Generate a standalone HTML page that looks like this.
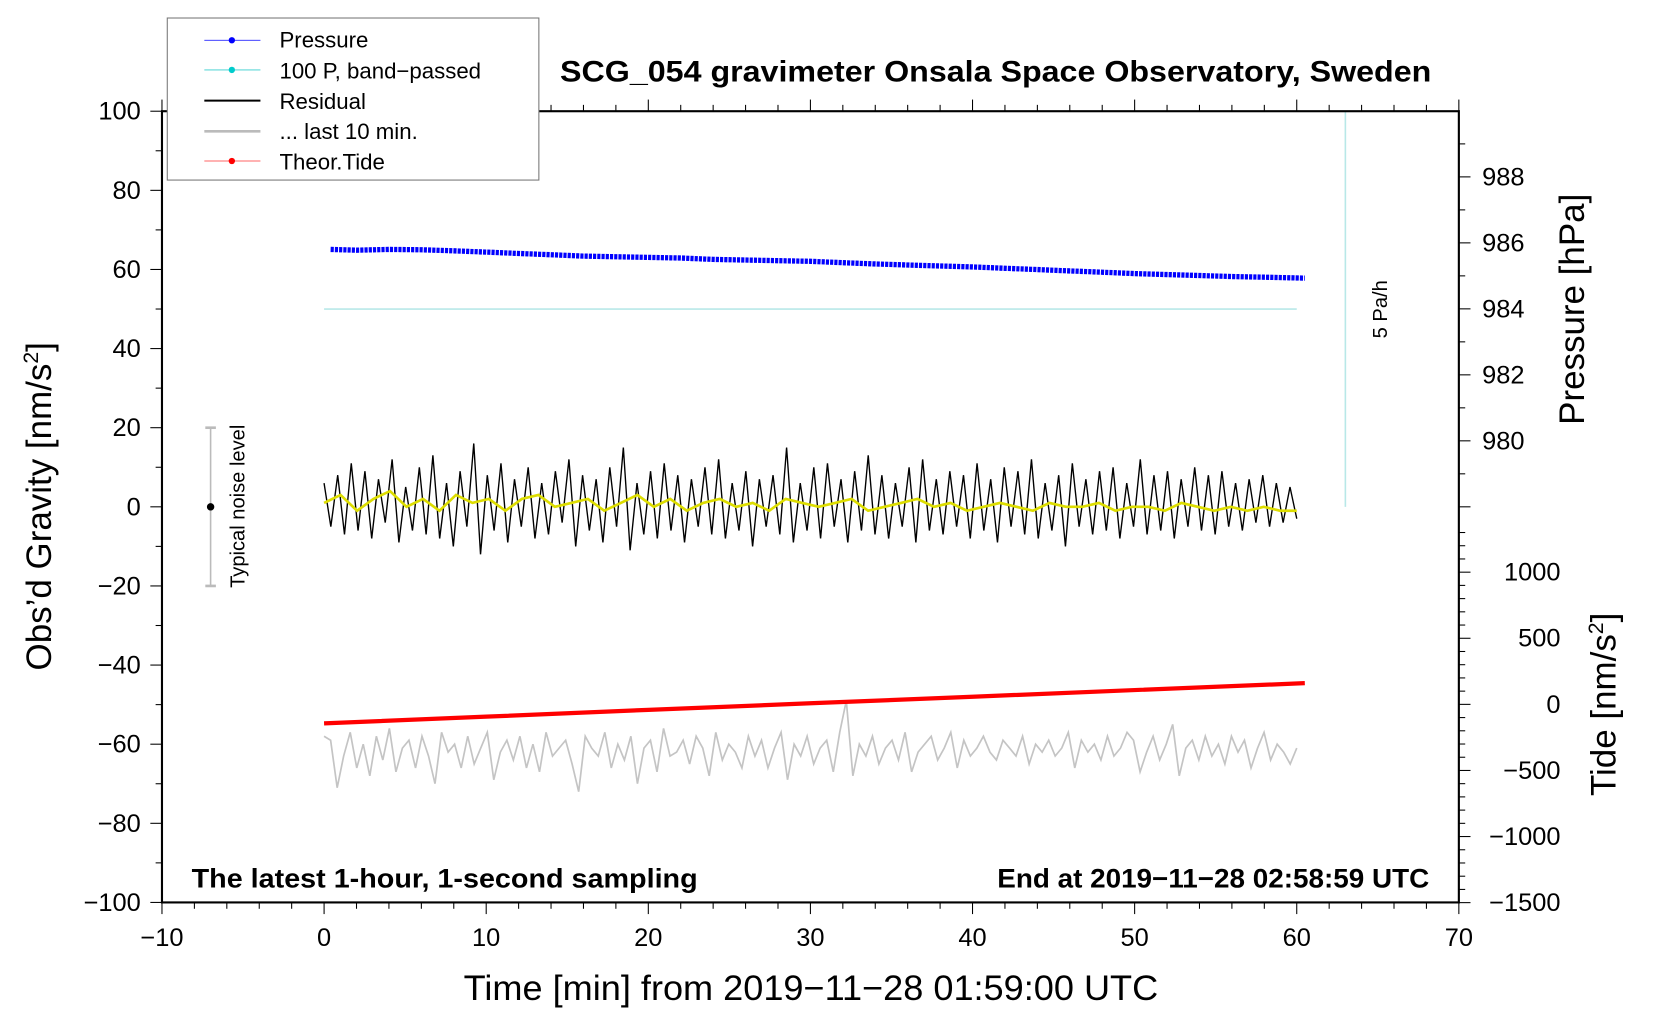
<!DOCTYPE html>
<html><head><meta charset="utf-8">
<style>
html,body{margin:0;padding:0;background:#fff;}
svg{display:block;font-family:"Liberation Sans",sans-serif;}
</style></head>
<body>
<svg id="chart" width="1660" height="1020" viewBox="0 0 1568 963" preserveAspectRatio="none" xmlns="http://www.w3.org/2000/svg">
<g id="marks"></g>
<g id="axes"></g>
<text x="529" y="77" font-size="28" font-weight="bold" textLength="823" lengthAdjust="spacingAndGlyphs">SCG_054 gravimeter Onsala Space Observatory, Sweden</text>
<text x="181" y="838" font-size="25" font-weight="bold" textLength="478" lengthAdjust="spacingAndGlyphs">The latest 1-hour, 1-second sampling</text>
<text x="942" y="838" font-size="25" font-weight="bold" textLength="408" lengthAdjust="spacingAndGlyphs">End at 2019−11−28 02:58:59 UTC</text>
<text x="438" y="944" font-size="33" textLength="656" lengthAdjust="spacingAndGlyphs">Time [min] from 2019−11−28 01:59:00 UTC</text>
<text transform="translate(48,478) rotate(-90)" text-anchor="middle" font-size="33">Obs’d Gravity [nm/s<tspan font-size="20" dy="-12">2</tspan><tspan dy="12">]</tspan></text>
<text transform="translate(1496,292) rotate(-90)" text-anchor="middle" font-size="33">Pressure [hPa]</text>
<text transform="translate(1526,665) rotate(-90)" text-anchor="middle" font-size="33">Tide [nm/s<tspan font-size="20" dy="-12">2</tspan><tspan dy="12">]</tspan></text>
<text transform="translate(1310,292) rotate(-90)" text-anchor="middle" font-size="19">5 Pa/h</text>
<text transform="translate(231,478) rotate(-90)" text-anchor="middle" font-size="19">Typical noise level</text>
<g>
<rect x="158" y="17" width="351" height="153" fill="#fff" stroke="#777" stroke-width="1"/>
<g><line x1="193" y1="38" x2="246" y2="38" stroke="#00f" stroke-width="0.8"/><circle cx="219" cy="38" r="3" fill="#00f"/><text x="264" y="45" font-size="21">Pressure</text></g>
<g><line x1="193" y1="66" x2="246" y2="66" stroke="#3cc" stroke-width="0.8"/><circle cx="219" cy="66" r="3" fill="#0cc"/><text x="264" y="74" font-size="21">100 P, band−passed</text></g>
<g><line x1="193" y1="95" x2="246" y2="95" stroke="#000" stroke-width="2"/><text x="264" y="103" font-size="21">Residual</text></g>
<g><line x1="193" y1="124" x2="246" y2="124" stroke="#bbb" stroke-width="2.5"/><text x="264" y="131" font-size="21">... last 10 min.</text></g>
<g><line x1="193" y1="152" x2="246" y2="152" stroke="#f33" stroke-width="0.8"/><circle cx="219" cy="152" r="3" fill="#f00"/><text x="264" y="160" font-size="21">Theor.Tide</text></g>
</g>
</svg>
<script>
// ---- data ----
const xTicks = [-10,0,10,20,30,40,50,60,70];
const yTicks = [100,80,60,40,20,0,-20,-40,-60,-80,-100];
const pTicks = [988,986,984,982,980];
const tTicks = [1000,500,0,-500,-1000,-1500];
const pressureTimes = [0.4,2,4,6,8,10,12,14,16,18,20,22,24,26,28,30,32,34,36,38,40,42,44,46,48,50,52,54,56,58,60.5];
const pressureValues = [985.8,985.78,985.8,985.79,985.76,985.72,985.68,985.64,985.6,985.58,985.56,985.54,985.5,985.48,985.46,985.44,985.4,985.36,985.33,985.3,985.27,985.23,985.19,985.15,985.11,985.07,985.04,985.01,984.98,984.96,984.93];
const tideTimes = [0,10,20,30,40,50,60.5];
const tideValues = [-144,-93,-42,8,58,108,160];
const bandpassLevel = 50;
const residualValues = [6,-5,8,-7,11,-6,9,-8,7,-4,12,-9,5,-6,10,-7,13,-8,6,-10,9,-5,16,-12,8,-6,11,-9,7,-5,10,-8,6,-7,9,-4,12,-10,8,-6,7,-9,10,-5,15,-11,6,-7,9,-8,11,-6,8,-9,7,-5,10,-7,12,-8,6,-6,9,-10,7,-5,8,-7,15,-9,6,-6,10,-8,11,-5,7,-9,9,-6,13,-7,8,-8,6,-5,10,-9,12,-6,7,-7,9,-5,8,-8,11,-6,7,-9,10,-5,9,-7,12,-8,6,-6,8,-10,11,-5,7,-7,9,-6,10,-8,6,-5,12,-7,8,-6,9,-8,7,-5,10,-6,8,-7,9,-5,6,-6,7,-4,8,-5,6,-4,5,-3];
const yellowValues = [1,3,-1,2,4,0,2,-1,3,1,2,-1,2,3,0,1,2,-1,1,3,0,2,-1,1,2,0,1,-1,2,1,0,1,2,-1,0,1,2,0,1,-1,0,1,0,-1,1,0,0,1,-1,0,0,-1,1,0,-1,0,-1,0,-1,-1];
const last10Values = [-58,-59,-71,-63,-57,-66,-60,-68,-58,-64,-56,-67,-61,-59,-66,-58,-63,-70,-57,-62,-60,-66,-58,-65,-61,-57,-69,-62,-59,-64,-58,-66,-60,-67,-57,-63,-61,-59,-65,-72,-58,-61,-63,-57,-66,-60,-64,-58,-70,-61,-59,-67,-56,-63,-62,-59,-65,-58,-61,-68,-57,-64,-60,-62,-66,-58,-63,-59,-66,-61,-57,-69,-60,-63,-58,-65,-61,-59,-67,-57,-49,-68,-60,-63,-58,-65,-61,-59,-64,-57,-67,-62,-60,-58,-64,-61,-57,-66,-59,-63,-61,-58,-62,-64,-59,-61,-63,-58,-65,-60,-62,-59,-63,-61,-57,-66,-59,-62,-60,-64,-58,-63,-61,-57,-59,-67,-62,-58,-64,-60,-55,-68,-61,-59,-64,-58,-63,-60,-65,-58,-62,-59,-66,-61,-57,-64,-60,-62,-65,-61];
const noiseBar = {x:-7, lo:-20, hi:20};
const rateLineX = 63;
// ---- scales ----
const X0=153, X1=1378, Y0=105, Y1=852;
const sx = v => X0 + (v+10)/80*(X1-X0);
const sy = v => Y0 + (100-v)/200*(Y1-Y0);
const sp = v => 167 + (988-v)/2*62.3;
const st = v => 665 - v/500*62.4;
const NS='http://www.w3.org/2000/svg';
const marks=document.getElementById('marks'), axes=document.getElementById('axes');
function mk(tag, attrs, parent){const e=document.createElementNS(NS,tag);for(const k in attrs)e.setAttribute(k,attrs[k]);parent.appendChild(e);return e;}
function pts(xs, ys){return xs.map((x,i)=>x.toFixed(1)+','+ys[i].toFixed(1)).join(' ');}
let e=mk('line',{x1:sx(0),x2:sx(60),y1:sy(bandpassLevel),y2:sy(bandpassLevel),stroke:'#b8e8e8','stroke-width':1.5},marks);


e=mk('line',{x1:sx(rateLineX),x2:sx(rateLineX),y1:sy(100),y2:sy(0),stroke:'#b8e8e8','stroke-width':1.5},marks);


e=mk('polyline',{points:pts(pressureTimes.map(sx),pressureValues.map(sp)),fill:'none',stroke:'#00f','stroke-width':5,'stroke-dasharray':'3 1'},marks);


const rx=residualValues.map((v,i)=>sx(i*60/(residualValues.length-1)));
e=mk('polyline',{points:pts(rx,residualValues.map(sy)),fill:'none',stroke:'#000','stroke-width':1.3},marks);


const yx=yellowValues.map((v,i)=>sx(i*60/(yellowValues.length-1)));
e=mk('polyline',{points:pts(yx,yellowValues.map(sy)),fill:'none',stroke:'#dd0','stroke-width':2.5},marks);


const lx=last10Values.map((v,i)=>sx(i*60/(last10Values.length-1)));
e=mk('polyline',{points:pts(lx,last10Values.map(sy)),fill:'none',stroke:'#c4c4c4','stroke-width':1.6},marks);


e=mk('polyline',{points:pts(tideTimes.map(sx),tideValues.map(st)),fill:'none',stroke:'#f00','stroke-width':4},marks);


e=mk('line',{x1:sx(noiseBar.x),x2:sx(noiseBar.x),y1:sy(noiseBar.hi),y2:sy(noiseBar.lo),stroke:'#bbb','stroke-width':1.5},marks);


[noiseBar.hi,noiseBar.lo].forEach(v=>{mk('line',{x1:sx(noiseBar.x)-5,x2:sx(noiseBar.x)+5,y1:sy(v),y2:sy(v),stroke:'#bbb','stroke-width':2.5},marks);});
e=mk('circle',{cx:sx(noiseBar.x),cy:sy(0),r:3.5,fill:'#000'},marks);


e=mk('rect',{x:X0,y:Y0,width:X1-X0,height:Y1-Y0,fill:'none',stroke:'#000','stroke-width':2},axes);


for(let v=-10;v<=70;v+=2){const big=v%10===0;
mk('line',{x1:sx(v),x2:sx(v),y1:Y1,y2:Y1+(big?11:6),stroke:'#000','stroke-width':1},axes);
mk('line',{x1:sx(v),x2:sx(v),y1:Y0,y2:Y0-(big?11:6),stroke:'#000','stroke-width':1},axes);}
xTicks.forEach(v=>{const t=mk('text',{x:sx(v),y:Y1+41,'text-anchor':'middle','font-size':24},axes);t.textContent=(v<0?'−':'')+Math.abs(v);

});
for(let v=-100;v<=100;v+=10){const big=v%20===0;
mk('line',{x1:X0,x2:X0-(big?11:6),y1:sy(v),y2:sy(v),stroke:'#000','stroke-width':1},axes);}
yTicks.forEach(v=>{const t=mk('text',{x:X0-20,y:sy(v)+8,'text-anchor':'end','font-size':24},axes);t.textContent=(v<0?'−':'')+Math.abs(v);

});
for(let v=989;v>=978;v-=1){const big=v%2===0;
mk('line',{x1:X1,x2:X1+(big?11:6),y1:sp(v),y2:sp(v),stroke:'#000','stroke-width':1},axes);}
pTicks.forEach(v=>{const t=mk('text',{x:X1+22,y:sp(v)+8,'font-size':24},axes);t.textContent=v;

});
for(let v=1300;v>=-1500;v-=100){const big=v%500===0;
mk('line',{x1:X1,x2:X1+(big?11:6),y1:st(v),y2:st(v),stroke:'#000','stroke-width':1},axes);}
tTicks.forEach(v=>{const t=mk('text',{x:X1+96,y:st(v)+8,'text-anchor':'end','font-size':24},axes);t.textContent=(v<0?'−':'')+Math.abs(v);

});
</script>
</body></html>
